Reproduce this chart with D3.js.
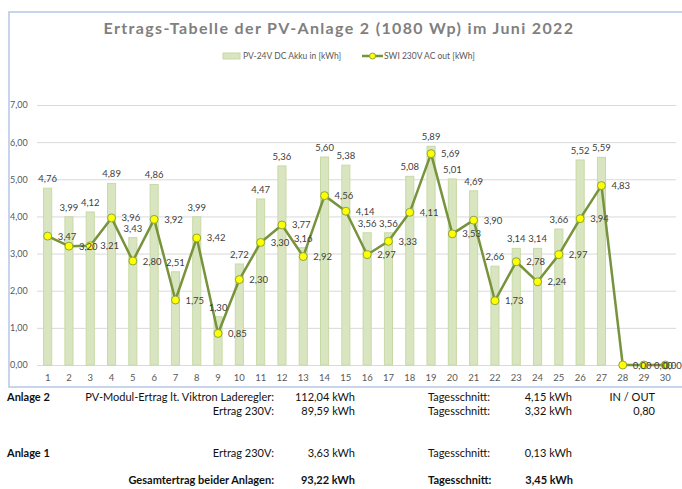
<!DOCTYPE html>
<html>
<head>
<meta charset="utf-8">
<script src="https://cdn.jsdelivr.net/npm/d3@7"></script>
<style>
  body { margin: 0; background: #fff; }
  svg { display: block; font-family: Lato, "Open Sans", sans-serif; }
</style>
</head>
<body>
<svg id="chart" width="682" height="489"></svg>
<script>
// daily values, June 2022
var days = d3.range(1, 31);
var dcIn = [4.76, 3.99, 4.12, 4.89, 3.43, 4.86, 2.51, 3.99, 1.30, 2.72,
            4.47, 5.36, 3.16, 5.60, 5.38, 3.56, 3.56, 5.08, 5.89, 5.01,
            4.69, 2.66, 3.14, 3.14, 3.66, 5.52, 5.59, 0, 0, 0];
var acOut = [3.47, 3.20, 3.21, 3.96, 2.80, 3.92, 1.75, 3.42, 0.85, 2.30,
             3.30, 3.77, 2.92, 4.56, 4.14, 2.97, 3.33, 4.11, 5.69, 3.53,
             3.90, 1.73, 2.78, 2.24, 2.97, 3.94, 4.83, 0, 0, 0];
var yTicks = [0, 1, 2, 3, 4, 5, 6, 7];
var seriesNames = ["PV-24V DC Akku in [kWh]", "SWI 230V AC out [kWh]"];
var title = "Ertrags-Tabelle der PV-Anlage 2 (1080 Wp) im Juni 2022";

var de = d3.formatLocale({decimal: ",", thousands: ".", grouping: [3], currency: ["", " €"]});
var fmt = de.format(".2f");

var svg = d3.select("#chart");

// chart frame
svg.append("rect")
  .attr("x", 9).attr("y", 12).attr("width", 700).attr("height", 375)
  .attr("fill", "none").attr("stroke", "#b4c7e7").attr("stroke-width", 1.5);

svg.append("text")
  .attr("x", 339).attr("y", 34)
  .attr("text-anchor", "middle")
  .attr("font-size", 16).attr("font-weight", "bold")
  .attr("letter-spacing", 1.35)
  .attr("fill", "#7f7f7f")
  .text(title);

var x = d3.scaleBand().domain(days).range([37, 676]).paddingInner(0.62).paddingOuter(0.31);
var y = d3.scaleLinear().domain([0, 7]).range([365, 105]);
var cx = function(d) { return x(d) + x.bandwidth() / 2; };

// grid + y labels
var yAxis = svg.append("g").attr("transform", "translate(37,0)")
  .call(d3.axisLeft(y).tickValues(yTicks).tickFormat(fmt).tickSize(-639).tickPadding(8));
yAxis.select(".domain").remove();
yAxis.selectAll(".tick line").attr("stroke", "#d9d9d9");
yAxis.selectAll(".tick text").attr("x", -27).attr("text-anchor", "start")
  .attr("fill", "#595959").attr("font-size", 9).attr("font-family", "Lato, sans-serif");

// x labels
var xAxis = svg.append("g").attr("transform", "translate(0,365)")
  .call(d3.axisBottom(x).tickSize(0).tickPadding(9));
xAxis.select(".domain").attr("stroke", "#d9d9d9");
xAxis.selectAll(".tick text").attr("fill", "#595959").attr("font-size", 9.5)
  .attr("font-family", "Lato, sans-serif");

// bars
svg.append("g").selectAll("rect")
  .data(days)
  .join("rect")
  .attr("x", function(d) { return x(d); })
  .attr("y", function(d, i) { return y(dcIn[i]); })
  .attr("width", x.bandwidth())
  .attr("height", function(d, i) { return y(0) - y(dcIn[i]); })
  .attr("fill", "#d9e5c0").attr("stroke", "#c8daa4").attr("stroke-width", 1);

// line
var line = d3.line().x(function(d) { return cx(d); }).y(function(d, i) { return y(acOut[i]); });
svg.append("path").datum(days)
  .attr("d", line)
  .attr("fill", "none").attr("stroke", "#77933c").attr("stroke-width", 2.5)
  .attr("stroke-linejoin", "round");

svg.append("g").selectAll("circle")
  .data(days)
  .join("circle")
  .attr("cx", cx)
  .attr("cy", function(d, i) { return y(acOut[i]); })
  .attr("r", 4)
  .attr("fill", "#ffff00").attr("stroke", "#8aa640").attr("stroke-width", 1);

// data labels
var lab = svg.append("g").attr("font-size", 9.5).attr("fill", "#404040");
lab.selectAll("text.bar")
  .data(days.filter(function(d, i) { return dcIn[i] > 0; }))
  .join("text").attr("class", "bar")
  .attr("x", cx)
  .attr("y", function(d) { return y(dcIn[d - 1]) - 6; })
  .attr("text-anchor", "middle")
  .text(function(d) { return fmt(dcIn[d - 1]); });
lab.selectAll("text.ln")
  .data(days)
  .join("text").attr("class", "ln")
  .attr("x", function(d) { return Math.min(cx(d) + 10, 663); })
  .attr("y", function(d, i) { return y(acOut[i]) + 3.5; })
  .text(function(d, i) { return fmt(acOut[i]); });

// legend
var lg = svg.append("g").attr("font-size", 8.5).attr("fill", "#595959");
lg.append("rect").attr("x", 223).attr("y", 53).attr("width", 17).attr("height", 6)
  .attr("fill", "#d9e5c0").attr("stroke", "#c8daa4");
lg.append("text").attr("x", 243).attr("y", 59).text(seriesNames[0]);
lg.append("line").attr("x1", 362).attr("x2", 383).attr("y1", 56).attr("y2", 56)
  .attr("stroke", "#77933c").attr("stroke-width", 2.5);
lg.append("circle").attr("cx", 372.5).attr("cy", 56).attr("r", 3)
  .attr("fill", "#ffff00").attr("stroke", "#8aa640");
lg.append("text").attr("x", 384).attr("y", 59).text(seriesNames[1]);

// summary table below the chart
var summary = [
  {t: "Anlage 2", x: 7, y: 401, a: "start", b: true},
  {t: "PV-Modul-Ertrag lt. Viktron Laderegler:", x: 274, y: 401, a: "end"},
  {t: "112,04 kWh", x: 355, y: 401, a: "end"},
  {t: "Tagesschnitt:", x: 428, y: 401, a: "start"},
  {t: "4,15 kWh", x: 572, y: 401, a: "end"},
  {t: "IN / OUT", x: 655, y: 401, a: "end"},
  {t: "Ertrag 230V:", x: 274, y: 415, a: "end"},
  {t: "89,59 kWh", x: 355, y: 415, a: "end"},
  {t: "Tagesschnitt:", x: 428, y: 415, a: "start"},
  {t: "3,32 kWh", x: 572, y: 415, a: "end"},
  {t: "0,80", x: 655, y: 415, a: "end"},
  {t: "Anlage 1", x: 7, y: 457, a: "start", b: true},
  {t: "Ertrag 230V:", x: 274, y: 457, a: "end"},
  {t: "3,63 kWh", x: 355, y: 457, a: "end"},
  {t: "Tagesschnitt:", x: 428, y: 457, a: "start"},
  {t: "0,13 kWh", x: 572, y: 457, a: "end"},
  {t: "Gesamtertrag beider Anlagen:", x: 274, y: 484, a: "end", b: true},
  {t: "93,22 kWh", x: 355, y: 484, a: "end", b: true},
  {t: "Tagesschnitt:", x: 428, y: 484, a: "start", b: true},
  {t: "3,45 kWh", x: 573, y: 484, a: "end", b: true}
];
svg.append("g").attr("font-size", 11).attr("fill", "#111")
  .selectAll("text").data(summary).join("text")
  .attr("x", function(d) { return d.x; })
  .attr("y", function(d) { return d.y; })
  .attr("text-anchor", function(d) { return d.a; })
  .attr("font-weight", function(d) { return d.b ? "bold" : null; })
  .text(function(d) { return d.t; });
</script>
</body>
</html>
